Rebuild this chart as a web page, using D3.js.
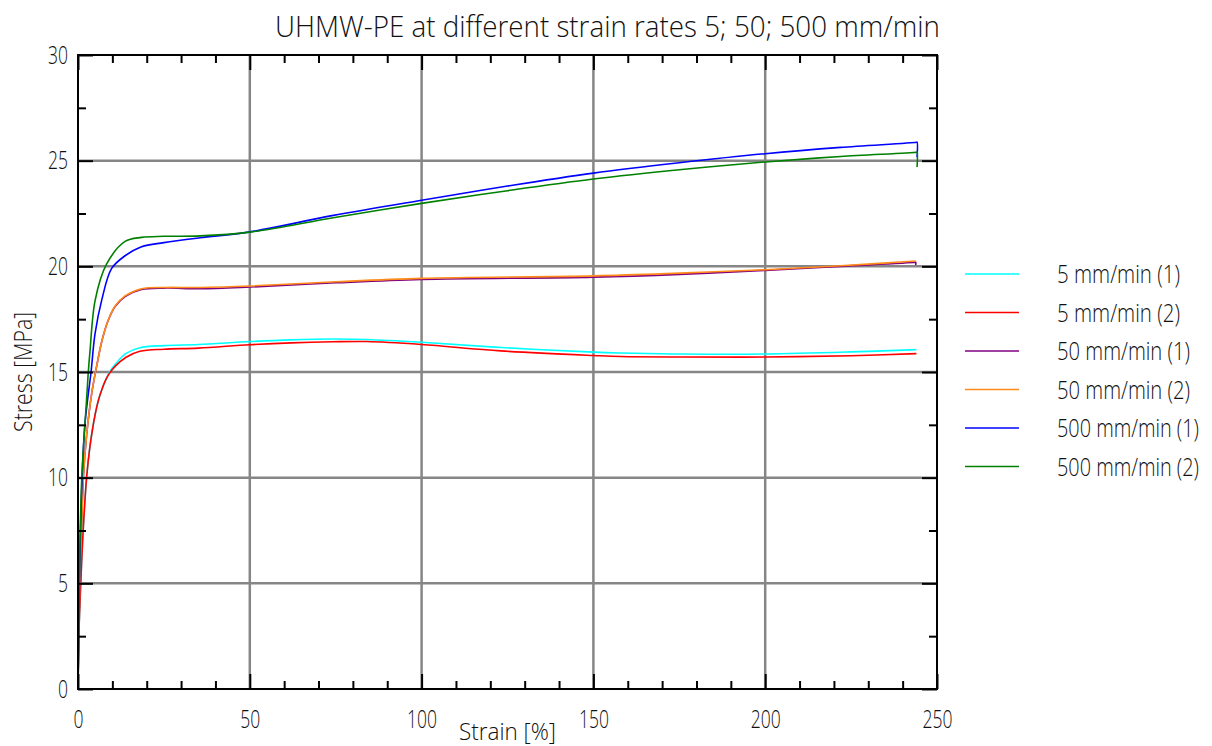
<!DOCTYPE html>
<html>
<head>
<meta charset="utf-8">
<script src="https://cdn.jsdelivr.net/npm/d3@7"></script>
<style>
  body { margin: 0; background: #fff; }
  text { font-family: "Open Sans", "Noto Sans", sans-serif; font-weight: 300; fill: #111; }
</style>
</head>
<body>
<script>
var width = 1212,
    height = 746;

// series data (strain %, stress MPa)
var strain5a = [0, 0.3, 0.8, 1.5, 2.5, 3.5, 5, 6, 7, 8, 9, 11, 14, 18, 25, 35, 50, 62, 74, 84, 100, 123, 150, 158, 176, 200, 225, 244];
var stress5a = [0, 2.8, 5, 7.5, 10, 11.5, 13, 13.7, 14.2, 14.6, 14.95, 15.4, 15.88, 16.15, 16.25, 16.3, 16.44, 16.52, 16.56, 16.54, 16.41, 16.16, 15.94, 15.9, 15.85, 15.85, 15.95, 16.06];

var strain5b = [0, 0.3, 0.8, 1.5, 2.5, 3.5, 5, 6, 7, 8, 9, 11, 14, 18, 25, 35, 50, 62, 74, 84, 100, 123, 150, 158, 176, 200, 225, 244];
var stress5b = [0, 2.8, 5, 7.5, 10, 11.5, 13, 13.7, 14.2, 14.6, 14.9, 15.3, 15.7, 15.98, 16.08, 16.13, 16.29, 16.38, 16.43, 16.44, 16.3, 16.0, 15.78, 15.73, 15.71, 15.71, 15.77, 15.87];

var strain50a = [0, 0.5, 1, 1.55, 2.5, 4, 5.4, 7, 8.8, 10.8, 13.7, 18.5, 25, 35.5, 50, 75, 100, 150, 175, 200, 222, 243.6, 243.8, 243.8];
var stress50a = [0, 5, 7.5, 10, 12, 14, 15.25, 16.5, 17.45, 18.1, 18.57, 18.9, 18.97, 18.94, 19.02, 19.22, 19.38, 19.49, 19.62, 19.81, 20.0, 20.19, 20.2, 20.06];

var strain50b = [0, 0.5, 1, 1.55, 2.5, 4, 5.4, 7, 8.8, 10.8, 13.7, 18.5, 25, 35.5, 50, 75, 100, 150, 175, 200, 222, 243.8];
var stress50b = [0, 5, 7.5, 10, 12, 14, 15.25, 16.5, 17.45, 18.12, 18.6, 18.94, 19.0, 19.0, 19.07, 19.27, 19.43, 19.55, 19.68, 19.84, 20.03, 20.25];

var strain500a = [0, 0.4, 1.2, 2, 2.8, 3.8, 4.95, 6.9, 9.8, 13.7, 18.5, 25, 35.5, 50, 74.3, 100, 125, 150, 175, 200, 222, 244, 244.2, 244.2];
var stress500a = [0, 5, 10, 12.5, 13.7, 15, 16.8, 18.4, 19.9, 20.5, 20.93, 21.12, 21.35, 21.63, 22.41, 23.13, 23.8, 24.41, 24.9, 25.33, 25.63, 25.87, 25.88, 25.16];

var strain500b = [0, 0.35, 1.1, 2.5, 3, 3.5, 5, 8.3, 13.7, 18.5, 25, 35.5, 50, 74.3, 100, 125, 150, 175, 200, 222, 244, 244.2, 244.2];
var stress500b = [0, 5, 10, 13.7, 15, 16, 18.4, 20.1, 21.18, 21.37, 21.42, 21.44, 21.62, 22.3, 22.98, 23.58, 24.13, 24.57, 24.94, 25.2, 25.4, 25.41, 24.7];

var seriesNames = ['5 mm/min (1)', '5 mm/min (2)', '50 mm/min (1)', '50 mm/min (2)', '500 mm/min (1)', '500 mm/min (2)'];
var seriesColors = ['#00ffff', '#ff0000', '#800080', '#ff8c1a', '#0000ff', '#008000'];
var xTicks = [0, 50, 100, 150, 200, 250];
var yTicks = [0, 5, 10, 15, 20, 25, 30];

var series = [
  [strain5a, stress5a], [strain5b, stress5b],
  [strain50a, stress50a], [strain50b, stress50b],
  [strain500a, stress500a], [strain500b, stress500b]
].map(function(s, i) {
  return {
    name: seriesNames[i],
    color: seriesColors[i],
    points: s[0].map(function(v, j) { return [v, s[1][j]]; })
  };
});

// plot box (note: "top" is taken by window.top)
var pLeft = 78, pRight = 937, pTop = 55, pBottom = 689;

var x = d3.scaleLinear().domain([0, 250]).range([pLeft, pRight]);
var y = d3.scaleLinear().domain([0, 30]).range([pBottom, pTop]);

var svg = d3.select('body').append('svg')
    .attr('width', width)
    .attr('height', height);

// grid
svg.append('g').selectAll('line')
    .data(xTicks.slice(1, -1))
    .enter().append('line')
    .attr('x1', function(d) { return x(d); })
    .attr('x2', function(d) { return x(d); })
    .attr('y1', pTop).attr('y2', pBottom)
    .style('stroke', '#868686').style('stroke-width', 2.5);

svg.append('g').selectAll('line')
    .data(yTicks.slice(1, -1))
    .enter().append('line')
    .attr('y1', function(d) { return y(d); })
    .attr('y2', function(d) { return y(d); })
    .attr('x1', pLeft).attr('x2', pRight)
    .style('stroke', '#868686').style('stroke-width', 2.5);

// curves
var line = d3.line()
    .x(function(d) { return x(d[0]); })
    .y(function(d) { return y(d[1]); })
    .curve(d3.curveCatmullRom.alpha(0.5));

svg.append('g').selectAll('path')
    .data(series)
    .enter().append('path')
    .attr('d', function(d) { return line(d.points); })
    .style('fill', 'none')
    .style('stroke', function(d) { return d.color; })
    .style('stroke-width', 1.6);

// the reference font is very narrow, so squeeze glyphs to ~10px per character
function squeeze(sel, perChar) {
  sel.each(function() {
    var t = d3.select(this), s = t.text();
    if (s) t.attr('textLength', s.length * perChar).attr('lengthAdjust', 'spacingAndGlyphs');
  });
}

function styleAxis(g) {
  g.select('.domain').remove();
  g.selectAll('line').style('stroke', '#000').style('stroke-width', 2);
  g.selectAll('text')
      .attr('font-family', null).attr('font-size', null)
      .style('font-size', '26px')
      .style('fill', '#111')
      .call(squeeze, 10);
}

var minorX = d3.range(10, 250, 10).filter(function(d) { return d % 50 !== 0; });
var minorY = d3.range(2.5, 30, 5);

svg.append('g')
    .attr('transform', 'translate(0,' + pBottom + ')')
    .call(d3.axisBottom(x).tickValues(xTicks).tickSize(-15).tickPadding(21))
    .call(styleAxis);
svg.append('g')
    .attr('transform', 'translate(0,' + pBottom + ')')
    .call(d3.axisBottom(x).tickValues(minorX).tickSize(-8).tickFormat(''))
    .call(styleAxis);
svg.append('g')
    .attr('transform', 'translate(0,' + pTop + ')')
    .call(d3.axisTop(x).tickValues(xTicks).tickSize(-15).tickFormat(''))
    .call(styleAxis);
svg.append('g')
    .attr('transform', 'translate(0,' + pTop + ')')
    .call(d3.axisTop(x).tickValues(minorX).tickSize(-8).tickFormat(''))
    .call(styleAxis);

svg.append('g')
    .attr('transform', 'translate(' + pLeft + ',0)')
    .call(d3.axisLeft(y).tickValues(yTicks).tickSize(-15).tickPadding(10))
    .call(styleAxis);
svg.append('g')
    .attr('transform', 'translate(' + pLeft + ',0)')
    .call(d3.axisLeft(y).tickValues(minorY).tickSize(-8).tickFormat(''))
    .call(styleAxis);
svg.append('g')
    .attr('transform', 'translate(' + pRight + ',0)')
    .call(d3.axisRight(y).tickValues(yTicks).tickSize(-15).tickFormat(''))
    .call(styleAxis);
svg.append('g')
    .attr('transform', 'translate(' + pRight + ',0)')
    .call(d3.axisRight(y).tickValues(minorY).tickSize(-8).tickFormat(''))
    .call(styleAxis);

// frame
svg.append('rect')
    .attr('x', pLeft).attr('y', pTop)
    .attr('width', pRight - pLeft).attr('height', pBottom - pTop)
    .style('fill', 'none').style('stroke', '#000').style('stroke-width', 2);

// title and axis labels
svg.append('text')
    .attr('x', 275).attr('y', 37)
    .attr('textLength', 665).attr('lengthAdjust', 'spacingAndGlyphs')
    .style('font-size', '30px')
    .text('UHMW-PE at different strain rates 5; 50; 500 mm/min');

svg.append('text')
    .attr('x', 459).attr('y', 740)
    .attr('textLength', 97).attr('lengthAdjust', 'spacingAndGlyphs')
    .style('font-size', '24px')
    .text('Strain  [%]');

svg.append('text')
    .attr('transform', 'translate(32,432) rotate(-90)')
    .attr('textLength', 120).attr('lengthAdjust', 'spacingAndGlyphs')
    .style('font-size', '25px')
    .text('Stress [MPa]');

// legend
var legendWidths = [123, 123, 133, 133, 142, 142];

var legend = svg.append('g').selectAll('g')
    .data(series)
    .enter().append('g')
    .attr('transform', function(d, i) { return 'translate(0,' + (274 + i * 38.5) + ')'; });

legend.append('line')
    .attr('x1', 965).attr('x2', 1019)
    .style('stroke', function(d) { return d.color; })
    .style('stroke-width', 1.6);

legend.append('text')
    .attr('x', 1057).attr('dy', '0.36em')
    .attr('textLength', function(d, i) { return legendWidths[i]; })
    .attr('lengthAdjust', 'spacingAndGlyphs')
    .style('font-size', '25px')
    .text(function(d) { return d.name; });
</script>
</body>
</html>
